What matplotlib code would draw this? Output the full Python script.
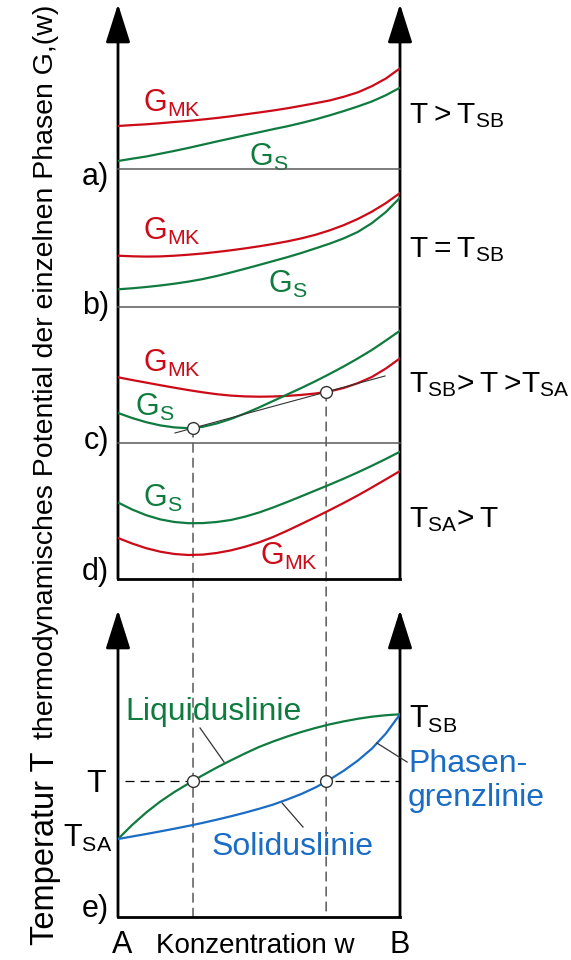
import matplotlib
matplotlib.use("Agg")
import matplotlib.pyplot as plt
from matplotlib.patches import ConnectionPatch

plt.rcParams['font.family'] = ['Liberation Sans', 'DejaVu Sans']
plt.rcParams['mathtext.fontset'] = 'custom'
plt.rcParams['mathtext.rm'] = 'Liberation Sans'
plt.rcParams['mathtext.it'] = 'Liberation Sans'
plt.rcParams['lines.scale_dashes'] = False

RED = '#cc0a18'
GREEN = '#0f7b3f'
BLUE = '#1a6cc4'
GREY = '#333333'
THIN = '\u2009'

# Konzentration w von A (0) bis B (1)
w = [0.0, 0.05, 0.1, 0.15, 0.2, 0.25, 0.3, 0.35, 0.4, 0.45, 0.5,
     0.55, 0.6, 0.65, 0.7, 0.75, 0.8, 0.85, 0.9, 0.95, 1.0]

# G(w) fuer Mischkristall (MK) und Schmelze (S), Hoehe ueber der Nulllinie je Teilbild
g_mk_a = [43.0, 43.9, 44.7, 45.8, 47.0, 48.1, 49.5, 51.0, 52.7, 54.6, 56.5,
          58.5, 60.7, 63.2, 65.8, 68.5, 72.2, 76.6, 82.8, 90.5, 100.7]
g_s_a = [8.0, 10.3, 12.5, 15.3, 18.1, 21.1, 24.3, 27.5, 30.6, 33.7, 36.7,
         39.8, 42.7, 46.0, 49.6, 53.6, 57.9, 62.5, 67.5, 73.8, 81.3]
g_mk_b = [51.3, 50.7, 50.4, 50.6, 51.3, 52.3, 53.5, 55.0, 56.7, 58.6, 60.7,
          63.0, 65.6, 68.6, 72.2, 76.6, 81.8, 88.0, 95.3, 103.9, 114.0]
g_s_b = [17.7, 18.7, 20.0, 21.5, 23.3, 25.4, 27.9, 31.0, 34.5, 38.2, 42.0,
         45.9, 49.8, 54.0, 58.6, 63.3, 68.6, 75.0, 83.8, 95.0, 109.3]
g_mk_c = [65.7, 63.0, 60.4, 57.8, 55.3, 52.9, 50.7, 48.8, 47.4, 46.6, 46.3,
          46.5, 47.1, 48.1, 49.5, 51.6, 55.0, 59.8, 66.0, 74.5, 84.7]
g_s_c = [30.0, 25.0, 20.8, 17.6, 15.6, 14.8, 16.2, 19.5, 24.0, 29.5, 35.5,
         42.0, 48.5, 55.0, 61.8, 69.0, 76.5, 84.5, 93.0, 102.5, 112.3]
g_mk_d = [41.0, 35.5, 30.8, 27.3, 25.0, 24.0, 24.4, 26.0, 28.6, 32.2, 36.6,
          42.0, 48.3, 55.0, 61.8, 68.8, 76.0, 83.5, 91.5, 99.7, 108.0]
g_s_d = [76.5, 69.5, 63.8, 59.6, 57.0, 55.8, 55.9, 57.0, 59.0, 62.3, 66.5,
         71.5, 77.0, 82.7, 88.5, 94.3, 100.3, 106.6, 113.2, 120.1, 127.3]

# Gemeinsame Tangente im Teilbild c)
tangent_w = [0.202, 0.947]
tangent_g = [10.0, 67.0]
w_left, w_right = 0.266, 0.738
g_tan_left, g_tan_right = 14.8, 51.0

# Zustandsdiagramm e)
liquidus = [78.0, 92.0, 104.5, 115.5, 125.0, 133.5, 141.7, 149.4, 156.6, 163.5, 170.0,
            175.5, 180.5, 185.0, 189.0, 192.6, 195.6, 198.2, 200.3, 201.8, 202.7]
solidus = [78.0, 80.5, 83.0, 85.6, 88.3, 91.1, 94.1, 97.3, 100.7, 104.3, 108.2,
           112.4, 117.5, 123.0, 129.5, 137.3, 146.2, 156.3, 168.3, 183.5, 202.7]
t_level = 136.0
liq_leader_w, liq_leader_t = [0.291, 0.376], [189.0, 155.0]
sol_leader_w, sol_leader_t = [0.582, 0.656], [114.0, 90.0]
pg_leader_w, pg_leader_t = [0.918, 1.025], [174.0, 155.0]

W, H = 571, 960
X0, X1 = 118, 400


def box(top, bottom):
    return [X0 / W, 1 - bottom / H, (X1 - X0) / W, (bottom - top) / H]


def clean(ax, top, bottom):
    ax.set_facecolor('none')
    ax.set_xlim(0, 1)
    ax.set_ylim(0, bottom - top)
    ax.set_xticks([])
    ax.set_yticks([])
    for s in ('left', 'right', 'top'):
        ax.spines[s].set_visible(False)


fig = plt.figure(figsize=(W / 100, H / 100), dpi=100)

ax_o = fig.add_axes([0, 0, 1, 1], zorder=0)
ax_o.set_xlim(0, W)
ax_o.set_ylim(H, 0)
ax_o.axis('off')

rows = [(40, 169), (169, 307), (307, 443), (443, 579)]
gmk = [g_mk_a, g_mk_b, g_mk_c, g_mk_d]
gs = [g_s_a, g_s_b, g_s_c, g_s_d]
panels = []
for i, (top, bottom) in enumerate(rows):
    ax = fig.add_axes(box(top, bottom), zorder=2)
    clean(ax, top, bottom)
    ax.plot(w, gmk[i], color=RED, lw=1.6)
    ax.plot(w, gs[i], color=GREEN, lw=1.6)
    last = i == len(rows) - 1
    ax.spines['bottom'].set_color('k' if last else '#5a5a5a')
    ax.spines['bottom'].set_linewidth(2.0 if last else 1.1)
    panels.append(ax)

ax_c = panels[2]
ax_c.plot(tangent_w, tangent_g, color=GREY, lw=0.8, zorder=3)
ax_c.plot([w_left, w_right], [g_tan_left, g_tan_right], 'o', ms=8.5,
          mfc='white', mec=GREY, mew=1.0, zorder=5)

ax_e = fig.add_axes(box(643, 917), zorder=2)
clean(ax_e, 643, 917)
ax_e.spines['bottom'].set_linewidth(2.0)
ax_e.axhline(t_level, xmin=0.025, color='k', lw=0.9, linestyle=(0, (6.5, 4.3)))
ax_e.plot(w, liquidus, color=GREEN, lw=1.6)
ax_e.plot(w, solidus, color=BLUE, lw=1.6)
for lw_, lt_ in ((liq_leader_w, liq_leader_t), (sol_leader_w, sol_leader_t),
                 (pg_leader_w, pg_leader_t)):
    ax_e.plot(lw_, lt_, color=GREY, lw=0.9, clip_on=False)
ax_e.plot([w_left, w_right], [t_level, t_level], 'o', ms=8.5,
          mfc='white', mec=GREY, mew=1.0, zorder=5)

for wx, gy in ((w_left, g_tan_left), (w_right, g_tan_right)):
    con = ConnectionPatch(xyA=(wx, gy), coordsA=ax_c.transData,
                          xyB=(wx, 0), coordsB=ax_e.transData,
                          color=GREY, lw=0.9, linestyle=(0, (6.5, 4.3)))
    ax_o.add_artist(con)

# Achsen mit Pfeilspitzen
for x in (X0, X1):
    for tip, base in ((4, 579), (610, 917)):
        ax_o.annotate('', xy=(x, tip), xytext=(x, base),
                      arrowprops=dict(arrowstyle='-|>,head_length=1.2,head_width=0.38',
                                      mutation_scale=20, lw=2.0, color='k',
                                      shrinkA=0, shrinkB=0))

# Beschriftungen
for s, y in (('a)', 177), ('b)', 306), ('c)', 441), ('d)', 572), ('e)', 909)):
    ax_o.text(109, y, s, ha='right', va='center', fontsize=22)

curve_labels = [
    (r'$\mathrm{G_{MK}}$', 143, 112, RED), (r'$\mathrm{G_{S}}$', 249, 166, GREEN),
    (r'$\mathrm{G_{MK}}$', 143, 240, RED), (r'$\mathrm{G_{S}}$', 268, 293, GREEN),
    (r'$\mathrm{G_{MK}}$', 143, 372, RED), (r'$\mathrm{G_{S}}$', 135, 416, GREEN),
    (r'$\mathrm{G_{S}}$', 143, 507, GREEN), (r'$\mathrm{G_{MK}}$', 260, 565, RED),
]
for s, x, y, c in curve_labels:
    ax_o.text(x, y, s, color=c, fontsize=22, va='baseline')

right_labels = [
    ('T' + THIN + '>' + THIN + r'T$\mathrm{_{SB}}$', 123),
    ('T' + THIN + '=' + THIN + r'T$\mathrm{_{SB}}$', 257),
    (r'T$\mathrm{_{SB}}$>' + THIN + 'T' + THIN + r'>T$\mathrm{_{SA}}$', 392),
    (r'T$\mathrm{_{SA}}$>' + THIN + 'T', 527),
]
for s, y in right_labels:
    ax_o.text(409, y, s, fontsize=21.5, va='baseline')
ax_o.text(409, 728, r'T$\mathrm{_{SB}}$', fontsize=22, va='baseline')

ax_o.text(125, 720, 'Liquiduslinie', color=GREEN, fontsize=23, va='baseline')
ax_o.text(212, 855, 'Soliduslinie', color=BLUE, fontsize=23, va='baseline')
ax_o.text(408, 772, 'Phasen-', color=BLUE, fontsize=23, va='baseline')
ax_o.text(408, 806, 'grenzlinie', color=BLUE, fontsize=23, va='baseline')
ax_o.text(106, 792, 'T', fontsize=23, ha='right', va='baseline')
ax_o.text(112, 847, r'T$\mathrm{_{SA}}$', fontsize=22, ha='right', va='baseline')

ax_o.text(122, 953, 'A', fontsize=22, ha='center', va='baseline')
ax_o.text(400, 953, 'B', fontsize=22, ha='center', va='baseline')
ax_o.text(255, 953, 'Konzentration w', fontsize=20, ha='center', va='baseline')

ax_o.text(46, 372, 'thermodynamisches Potential der einzelnen Phasen G,(w)',
          rotation=90, fontsize=20.5, ha='center', va='center')
ax_o.text(46, 848, 'Temperatur T', rotation=90, fontsize=23.5,
          ha='center', va='center')

fig.savefig('out.png', dpi=100)
